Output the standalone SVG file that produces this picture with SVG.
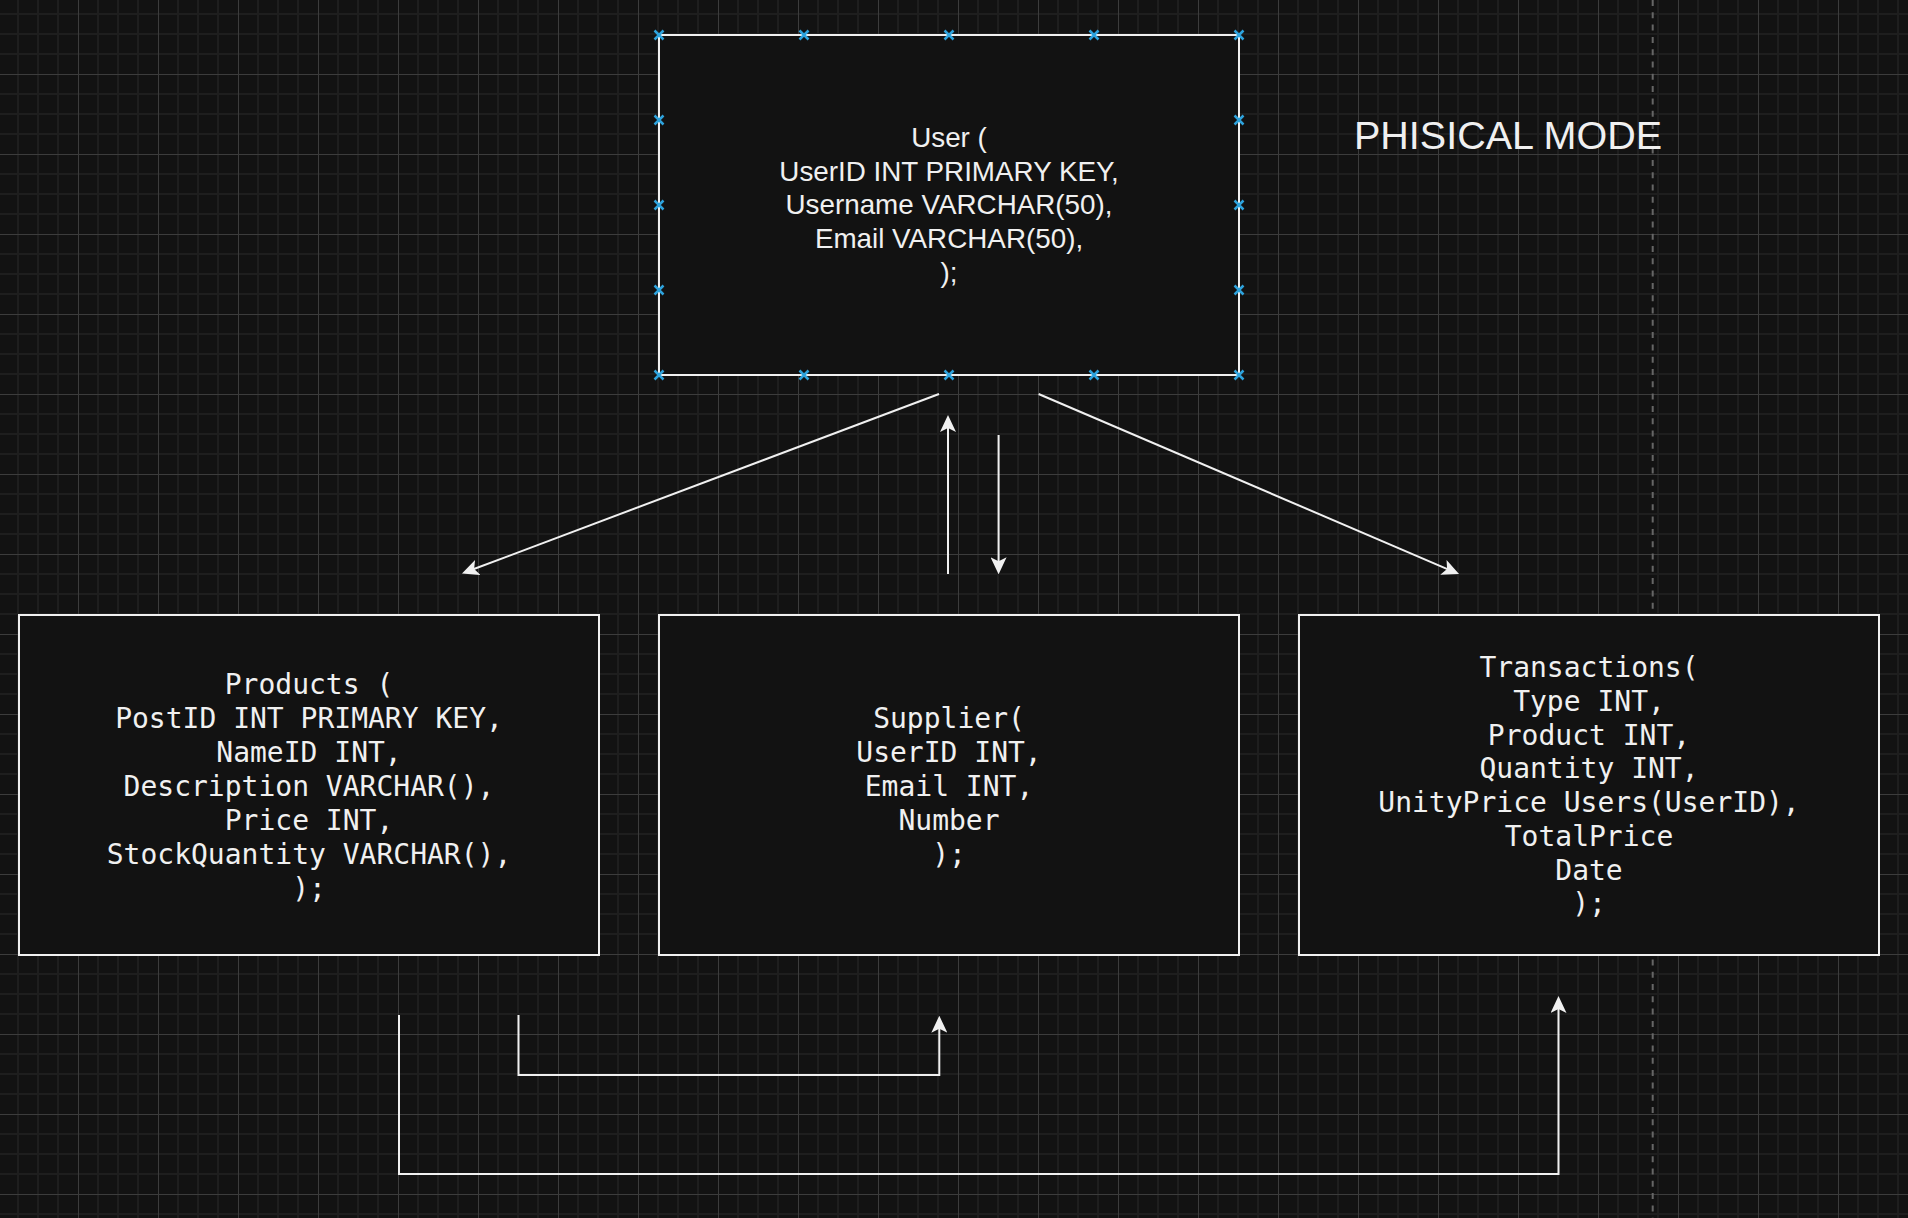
<svg xmlns="http://www.w3.org/2000/svg" xmlns:xlink="http://www.w3.org/1999/xlink" width="1908" height="1218" viewBox="0 0 1908 1218">
<style>
.box{fill:#121212;stroke:#f0f0f0;stroke-width:2}
.sans{font-family:"Liberation Sans",Arial,sans-serif;font-size:27.8px;fill:#f0f0f0;text-anchor:middle}
.mono{font-family:"DejaVu Sans Mono","Liberation Mono",monospace;font-size:28px;fill:#f0f0f0;text-anchor:middle}
.title{font-family:"Liberation Sans",Arial,sans-serif;font-size:39.5px;fill:#f0f0f0;text-anchor:middle}
.edge{fill:none;stroke:#f0f0f0;stroke-width:2}
.arr{marker-end:url(#arrow)}
.cx{fill:none;stroke:#2ea3dd;stroke-width:2.5}
</style>
<defs>
<pattern id="grid" x="-2" y="-6" width="80" height="80" patternUnits="userSpaceOnUse">
<rect x="0" y="0" width="80" height="80" fill="#121212"/>
<rect x="19" y="0" width="2" height="80" fill="#1e1e1e"/>
<rect x="39" y="0" width="2" height="80" fill="#1e1e1e"/>
<rect x="59" y="0" width="2" height="80" fill="#1e1e1e"/>
<rect x="0" y="19" width="80" height="2" fill="#1e1e1e"/>
<rect x="0" y="39" width="80" height="2" fill="#1e1e1e"/>
<rect x="0" y="59" width="80" height="2" fill="#1e1e1e"/>
<rect x="0" y="0" width="1" height="80" fill="#3c3c3c"/>
<rect x="0" y="0" width="80" height="1" fill="#3c3c3c"/>
</pattern>
<marker id="arrow" viewBox="0 0 17 16" refX="5" refY="8" markerWidth="17" markerHeight="16" markerUnits="userSpaceOnUse" orient="auto">
<path d="M0,0 L17,8 L0,16 L4,8 Z" fill="#f0f0f0"/>
</marker>
<path id="cx" class="cx" d="M-4.5,-4.5 L4.5,4.5 M-4.5,4.5 L4.5,-4.5"/>
</defs>
<rect width="1908" height="1218" fill="url(#grid)"/>
<line x1="1652.7" y1="0" x2="1652.7" y2="1218" stroke="#666666" stroke-width="2" stroke-dasharray="6 6.3"/>

<g id="title">
<text class="title" x="1508" y="149">PHISICAL MODE</text>
</g>

<g id="connectors">
<path class="edge arr" d="M939,394 L473.2,569.3"/>
<path class="edge arr" d="M1038.6,394 L1448,569.3"/>
<path class="edge arr" d="M948,574 L948,427"/>
<path class="edge arr" d="M998.6,435 L998.6,562.3"/>
<path class="edge arr" d="M399,1015 L399,1174 L1558.5,1174 L1558.5,1008"/>
<path class="edge arr" d="M518.5,1015 L518.5,1075 L939.3,1075 L939.3,1027.7"/>
</g>

<g id="user">
<rect class="box" x="659" y="35" width="580" height="340"/>
<text class="sans" x="949" y="146.5">User (</text>
<text class="sans" x="949" y="180.5">UserID INT PRIMARY KEY,</text>
<text class="sans" x="949" y="214">Username VARCHAR(50),</text>
<text class="sans" x="949" y="248">Email VARCHAR(50),</text>
<text class="sans" x="949" y="282">);</text>
<use href="#cx" x="659" y="35"/><use href="#cx" x="804" y="35"/><use href="#cx" x="949" y="35"/><use href="#cx" x="1094" y="35"/><use href="#cx" x="1239" y="35"/>
<use href="#cx" x="659" y="375"/><use href="#cx" x="804" y="375"/><use href="#cx" x="949" y="375"/><use href="#cx" x="1094" y="375"/><use href="#cx" x="1239" y="375"/>
<use href="#cx" x="659" y="120"/><use href="#cx" x="659" y="205"/><use href="#cx" x="659" y="290"/>
<use href="#cx" x="1239" y="120"/><use href="#cx" x="1239" y="205"/><use href="#cx" x="1239" y="290"/>
</g>

<g id="products">
<rect class="box" x="19" y="615" width="580" height="340"/>
<text class="mono" x="309" y="694">Products (</text>
<text class="mono" x="309" y="728">PostID INT PRIMARY KEY,</text>
<text class="mono" x="309" y="762">NameID INT,</text>
<text class="mono" x="309" y="795.5">Description VARCHAR(),</text>
<text class="mono" x="309" y="829.5">Price INT,</text>
<text class="mono" x="309" y="863.5">StockQuantity VARCHAR(),</text>
<text class="mono" x="309" y="897.5">);</text>
</g>

<g id="supplier">
<rect class="box" x="659" y="615" width="580" height="340"/>
<text class="mono" x="949" y="728">Supplier(</text>
<text class="mono" x="949" y="762">UserID INT,</text>
<text class="mono" x="949" y="795.5">Email INT,</text>
<text class="mono" x="949" y="829.5">Number</text>
<text class="mono" x="949" y="863.5">);</text>
</g>

<g id="transactions">
<rect class="box" x="1299" y="615" width="580" height="340"/>
<text class="mono" x="1589" y="677">Transactions(</text>
<text class="mono" x="1589" y="711">Type INT,</text>
<text class="mono" x="1589" y="744.5">Product INT,</text>
<text class="mono" x="1589" y="778">Quantity INT,</text>
<text class="mono" x="1589" y="812">UnityPrice Users(UserID),</text>
<text class="mono" x="1589" y="845.5">TotalPrice</text>
<text class="mono" x="1589" y="879.5">Date</text>
<text class="mono" x="1589" y="913">);</text>
</g>
</svg>
